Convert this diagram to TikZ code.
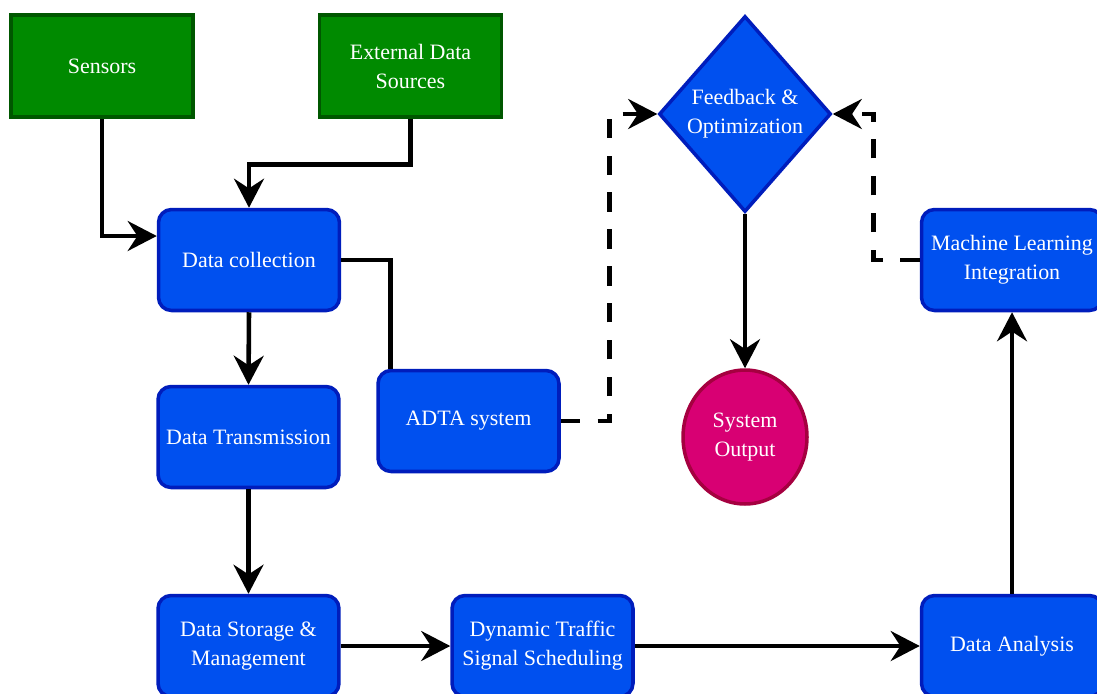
\documentclass[tikz,border=0pt]{standalone}
\usepackage{fontspec}
\setmainfont{Liberation Serif}
\usetikzlibrary{arrows.meta,shapes.geometric,calc}
\definecolor{bfill}{HTML}{0050EF}
\definecolor{bdraw}{HTML}{001DBC}
\definecolor{gfill}{HTML}{008A00}
\definecolor{gdraw}{HTML}{005700}
\definecolor{pfill}{HTML}{D80073}
\definecolor{pdraw}{HTML}{A50040}
\begin{document}
\begin{tikzpicture}[x=0.02cm,y=-0.02cm,
  txt/.style={text=white, align=center, font=\fontsize{12.5}{16.5}\selectfont, inner sep=0pt},
  box/.style={txt, rectangle, rounded corners=0.26cm, fill=bfill, draw=bdraw, line width=2pt, minimum width=3.62cm, minimum height=2.02cm},
  gbox/.style={txt, rectangle, fill=gfill, draw=gdraw, line width=2pt, minimum width=3.64cm, minimum height=2.04cm},
  conn/.style={line width=2.6pt, -{Stealth[length=16.5pt,width=17pt,inset=5.5pt]}},
  plainline/.style={line width=2.6pt},
  dconn/.style={conn, dash pattern=on 11pt off 10pt}
]
\useasboundingbox (0,0) rectangle (1097,693);
\clip (0,0) rectangle (1097,693);

\node[gbox] (S) at (102,66) {Sensors};
\node[gbox] (E) at (410.5,66) {External Data\\Sources};
\node[box] (DC) at (249,260) {Data collection};
\node[box] (DT) at (248.5,437) {Data Transmission};
\node[box] (AD) at (468.5,421) {ADTA system};
\node[box] (DS) at (248.5,646) {Data Storage \&\\Management};
\node[box] (DY) at (542.5,646) {Dynamic Traffic\\Signal Scheduling};
\node[box] (DA) at (1012,646) {Data Analysis};
\node[box] (ML) at (1012,260) {Machine Learning\\Integration};
\node[txt, diamond, fill=bfill, draw=bdraw, line width=2pt, minimum width=3.44cm, minimum height=3.92cm] (FB) at (745,114) {Feedback \&\\Optimization};
\node[txt, ellipse, fill=pfill, draw=pdraw, line width=2pt, minimum width=2.48cm, minimum height=2.68cm] (SO) at (745,437) {System\\Output};

\draw[conn] (S.south) |- ([yshift=0.48cm]DC.west);
\draw[conn] (E.south) -- ++(0,46) -| (DC.north);
\draw[plainline] (DC.east) -| ([xshift=0.28cm]AD.north west);
\draw[conn] (DC.south) -- (DT.north);
\draw[conn] (DT.south) -- (DS.north);
\draw[conn] (DS.east) -- (DY.west);
\draw[conn] (DY.east) -- (DA.west);
\draw[conn] (DA.north) -- (ML.south);
\draw[dconn] (AD.east) -- ++(49,0) |- (FB.west);
\draw[dconn] (ML.west) -- ++(-46,0) |- (FB.east);
\draw[conn] (FB.south) -- (SO.north);
\end{tikzpicture}
\end{document}
